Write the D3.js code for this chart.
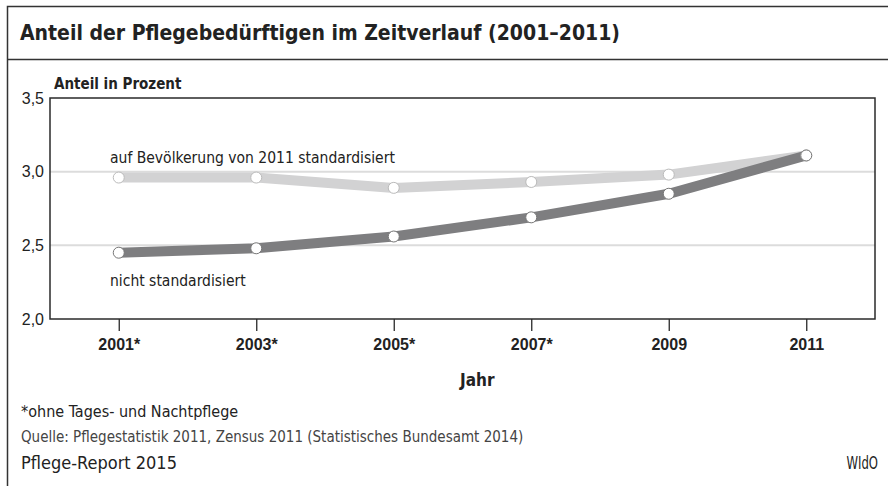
<!DOCTYPE html>
<html>
<head>
<meta charset="utf-8">
<script src="https://cdn.jsdelivr.net/npm/d3@7"></script>
<style>
  body { margin: 0; background: #fff; }
  svg { display: block; font-family: 'Liberation Sans Narrow', 'DejaVu Sans Condensed', sans-serif; }
</style>
</head>
<body>
<script>
// Data
const years = ['2001*', '2003*', '2005*', '2007*', '2009', '2011'];
const standardisiert = [2.96, 2.96, 2.89, 2.93, 2.98, 3.11];
const nichtStandardisiert = [2.45, 2.48, 2.56, 2.69, 2.85, 3.11];
const yTicks = [2.0, 2.5, 3.0, 3.5];
const gridValues = [2.5, 3.0];

const [w, h] = [888, 486];
const plot = { left: 50, top: 98, right: 875, bottom: 319 };
const ink = '#222';

const svg = d3.select('body')
  .append('svg')
  .attr('width', w)
  .attr('height', h);

// Frame
svg.append('path')
  .attr('d', `M${w},6.5 H7.5 V${h} M7.5,59.5 H${w}`)
  .attr('fill', 'none')
  .attr('stroke', '#333')
  .attr('stroke-width', 1.5);

// Title
svg.append('text')
  .attr('x', 20)
  .attr('y', 40)
  .attr('font-size', 21)
  .attr('font-weight', 'bold')
  .attr('fill', ink)
  .text('Anteil der Pflegebedürftigen im Zeitverlauf (2001–2011)');

// Scales
const xScale = d3.scalePoint()
  .domain(years)
  .range([plot.left, plot.right])
  .padding(0.5);

const yScale = d3.scaleLinear()
  .domain([2, 3.5])
  .range([plot.bottom, plot.top]);

// Gridlines
svg.selectAll('.grid')
  .data(gridValues)
  .enter()
  .append('line')
  .attr('class', 'grid')
  .attr('x1', plot.left)
  .attr('x2', plot.right)
  .attr('y1', d => yScale(d))
  .attr('y2', d => yScale(d))
  .attr('stroke', '#dcdcdc')
  .attr('stroke-width', 2);

// Plot border
svg.append('rect')
  .attr('x', plot.left)
  .attr('y', plot.top)
  .attr('width', plot.right - plot.left)
  .attr('height', plot.bottom - plot.top)
  .attr('fill', 'none')
  .attr('stroke', '#2a2a2a')
  .attr('stroke-width', 1.5);

// X axis
const xAxis = d3.axisBottom(xScale).tickSize(12).tickPadding(8);
const gx = svg.append('g')
  .attr('transform', `translate(0, ${plot.bottom})`)
  .call(xAxis);
gx.select('.domain').remove();
gx.selectAll('.tick line').attr('stroke', '#2a2a2a').attr('stroke-width', 1.3);
gx.selectAll('.tick text')
  .attr('font-family', null)
  .attr('font-size', 16)
  .attr('font-weight', 'bold')
  .attr('fill', ink);

// Y axis (labels only)
const yAxis = d3.axisLeft(yScale)
  .tickValues(yTicks)
  .tickSize(0)
  .tickPadding(6)
  .tickFormat(d => d3.format('.1f')(d).replace('.', ','));
const gy = svg.append('g')
  .attr('transform', `translate(${plot.left}, 0)`)
  .call(yAxis);
gy.select('.domain').remove();
gy.selectAll('.tick text')
  .attr('font-family', null)
  .attr('font-size', 16)
  .attr('fill', ink);

// Axis titles
svg.append('text')
  .attr('x', 54)
  .attr('y', 89)
  .attr('font-size', 15)
  .attr('font-weight', 'bold')
  .attr('fill', ink)
  .text('Anteil in Prozent');

svg.append('text')
  .attr('x', 460)
  .attr('y', 386)
  .attr('font-size', 17)
  .attr('font-weight', 'bold')
  .attr('fill', ink)
  .text('Jahr');

// Lines
const line = d3.line()
  .x((d, i) => xScale(years[i]))
  .y(d => yScale(d));

svg.append('path')
  .datum(standardisiert)
  .attr('d', line)
  .attr('fill', 'none')
  .attr('stroke', '#d2d2d3')
  .attr('stroke-width', 10);

svg.append('path')
  .datum(nichtStandardisiert)
  .attr('d', line)
  .attr('fill', 'none')
  .attr('stroke', '#7e7e80')
  .attr('stroke-width', 10);

// Markers
[[standardisiert, '#bbb'], [nichtStandardisiert, '#777']].forEach(([series, stroke]) => {
  svg.append('g')
    .selectAll('circle')
    .data(series)
    .enter()
    .append('circle')
    .attr('cx', (d, i) => xScale(years[i]))
    .attr('cy', d => yScale(d))
    .attr('r', 5.5)
    .attr('fill', '#fff')
    .attr('stroke', stroke)
    .attr('stroke-width', 1);
});

// Series labels
svg.append('text')
  .attr('x', 110)
  .attr('y', 163)
  .attr('font-size', 15.5)
  .attr('fill', ink)
  .text('auf Bevölkerung von 2011 standardisiert');

svg.append('text')
  .attr('x', 110)
  .attr('y', 286)
  .attr('font-size', 15.5)
  .attr('fill', ink)
  .text('nicht standardisiert');

// Footer
svg.append('text')
  .attr('x', 21)
  .attr('y', 417)
  .attr('font-size', 16)
  .attr('fill', ink)
  .text('*ohne Tages- und Nachtpflege');

svg.append('text')
  .attr('x', 21)
  .attr('y', 442)
  .attr('font-size', 15)
  .attr('fill', '#444')
  .text('Quelle: Pflegestatistik 2011, Zensus 2011 (Statistisches Bundesamt 2014)');

svg.append('text')
  .attr('x', 21)
  .attr('y', 469)
  .attr('font-size', 18)
  .attr('fill', ink)
  .text('Pflege-Report 2015');

// WIdO logo text, narrowed to match the condensed original
svg.append('text')
  .attr('transform', 'translate(878, 469) scale(0.72, 1)')
  .attr('text-anchor', 'end')
  .attr('font-size', 18)
  .attr('fill', ink)
  .text('WIdO');
</script>
</body>
</html>
